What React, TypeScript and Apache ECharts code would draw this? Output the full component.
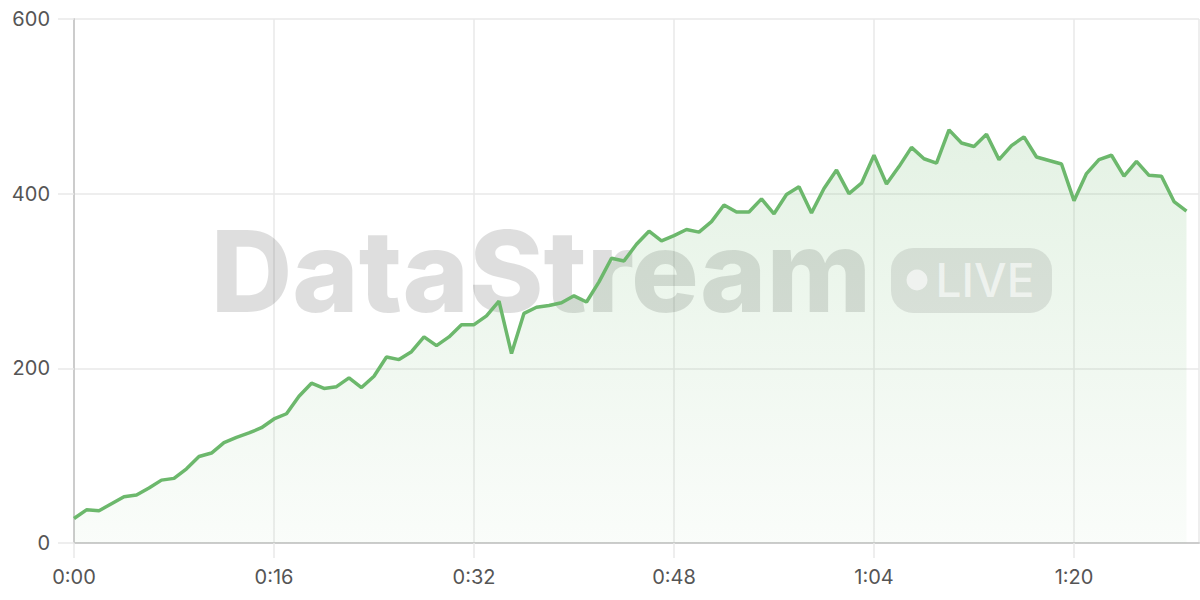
import { useEffect, useRef } from "react";
import * as echarts from "echarts";

// one reading per second, starting at 0:00
const readings = [
  28, 38, 37, 45, 53, 55, 63, 72, 74, 85,
  99, 103, 115, 121, 126, 132, 142, 148, 168, 183,
  177, 179, 189, 178, 191, 213, 210, 219, 236, 226,
  236, 250, 250, 260, 277, 217, 263, 270, 272, 275,
  283, 276, 299, 326, 323, 342, 357, 346, 352, 359,
  356, 368, 387, 379, 379, 394, 377, 399, 408, 378,
  406, 427, 400, 412, 444, 411, 431, 453, 440, 435,
  473, 458, 454, 468, 439, 455, 465, 442, 438, 434,
  392, 423, 439, 444, 420, 437, 421, 420, 391, 380,
];
const stepSeconds = 1;
const xMax = 90;
const xTickEvery = 16;
const yTicks = [0, 200, 400, 600];

const green = "#6cb86c";
const font = "Inter, 'Noto Sans', sans-serif";

function fmtTime(v: number) {
  const m = Math.floor(v / 60);
  const s = Math.round(v % 60);
  return `${m}:${String(s).padStart(2, "0")}`;
}

export default function App() {
  const chartRef = useRef<HTMLDivElement>(null);

  useEffect(() => {
    document.body.style.margin = "0";
    if (!chartRef.current) return;
    const chart = echarts.init(chartRef.current, undefined, { renderer: "svg" });

    const points = readings.map((v, i) => [i * stepSeconds, v]);

    const option: echarts.EChartsOption = {
      animation: false,
      textStyle: { fontFamily: font },
      grid: { left: 74, right: 1, top: 19, bottom: 57, containLabel: false },
      xAxis: {
        type: "value",
        min: 0,
        max: xMax,
        interval: xTickEvery,
        axisLine: { show: true, lineStyle: { color: "#cccccc", width: 2 } },
        axisTick: { show: true, length: 15, lineStyle: { color: "#e8e8e8", width: 1.5 } },
        axisLabel: {
          color: "#555",
          fontSize: 20,
          fontFamily: font,
          margin: 24,
          showMaxLabel: false,
          formatter: (v: number) => fmtTime(v),
        },
        splitLine: { show: true, lineStyle: { color: "#e8e8e8", width: 1.5 } },
      },
      yAxis: {
        type: "value",
        min: yTicks[0],
        max: yTicks[yTicks.length - 1],
        interval: yTicks[1] - yTicks[0],
        axisLine: { show: true, lineStyle: { color: "#cccccc", width: 2 } },
        axisTick: { show: true, length: 16, lineStyle: { color: "#e8e8e8", width: 1.5 } },
        axisLabel: { color: "#555", fontSize: 20, fontFamily: font, margin: 24 },
        splitLine: { show: true, lineStyle: { color: "#e8e8e8", width: 1.5 } },
      },
      graphic: [
        {
          type: "text",
          x: 541,
          y: 271,
          z: 1,
          silent: true,
          style: {
            text: "DataStream",
            font: `800 113px ${font}`,
            fill: "rgba(0,0,0,0.13)",
            textAlign: "center",
            textVerticalAlign: "middle",
          },
        },
        // the badge sits clear of the line, so it can go over the area fill
        {
          type: "rect",
          z: 4,
          silent: true,
          shape: { x: 891, y: 248, width: 161, height: 65, r: 22 },
          style: { fill: "rgba(0,0,0,0.09)" },
        },
        {
          type: "circle",
          z: 5,
          silent: true,
          shape: { cx: 917, cy: 280, r: 10.5 },
          style: { fill: "rgba(255,255,255,0.6)" },
        },
        {
          type: "text",
          x: 985,
          y: 280,
          z: 5,
          silent: true,
          style: {
            text: "LIVE",
            font: `500 46px ${font}`,
            fill: "rgba(255,255,255,0.6)",
            textAlign: "center",
            textVerticalAlign: "middle",
          },
        },
      ],
      series: [
        {
          type: "line",
          data: points,
          showSymbol: false,
          symbol: "none",
          z: 3,
          lineStyle: { color: green, width: 3.5 },
          itemStyle: { color: green },
          areaStyle: {
            color: new echarts.graphic.LinearGradient(0, 0, 0, 1, [
              { offset: 0, color: "rgba(108,184,108,0.26)" },
              { offset: 1, color: "rgba(108,184,108,0.05)" },
            ]),
          },
        },
      ],
    };

    chart.setOption(option);
    return () => chart.dispose();
  }, []);

  return <div ref={chartRef} style={{ width: 1200, height: 600 }} />;
}
